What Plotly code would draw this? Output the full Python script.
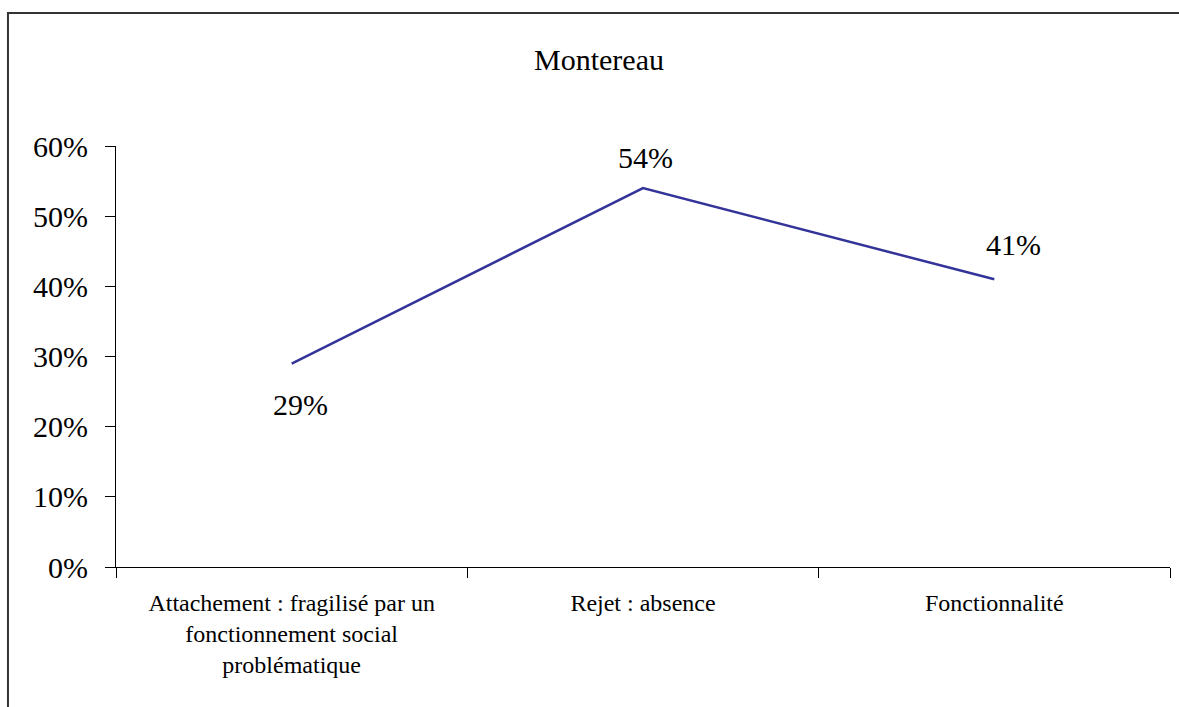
import plotly.graph_objects as go

categories = ["Attachement : fragilisé par un<br>fonctionnement social<br>problématique",
              "Rejet : absence", "Fonctionnalité"]
values = [0.29, 0.54, 0.41]
labels = ["29%", "54%", "41%"]
label_shift = [-41, 31, 35]
label_xshift = [9, 2, 19]
y_ticks = [0, 0.1, 0.2, 0.3, 0.4, 0.5, 0.6]
y_ticktext = ["0%", "10%", "20%", "30%", "40%", "50%", "60%"]

FONT = "Liberation Serif, serif"

fig = go.Figure()
fig.add_trace(go.Scatter(x=categories, y=values, mode="lines",
                         line=dict(color="#333399", width=2.5),
                         hoverinfo="skip", showlegend=False))

for c, v, t, ys, xs in zip(categories, values, labels, label_shift, label_xshift):
    fig.add_annotation(x=c, y=v, text=t, showarrow=False, yshift=ys, xshift=xs,
                       font=dict(family=FONT, size=30, color="black"))

fig.add_annotation(xref="paper", yref="paper", x=0.4583, y=1.2043, text="Montereau",
                   showarrow=False, xanchor="center", yanchor="middle",
                   font=dict(family=FONT, size=30, color="black"))

# outer chart border
fig.add_shape(type="rect", xref="paper", yref="paper",
              x0=-0.1025, x1=1.3, y0=-0.6, y1=1.3159,
              line=dict(color="#333333", width=2), layer="below")

fig.update_layout(
    width=1179, height=707,
    font=dict(family=FONT, color="black"),
    margin=dict(l=116, r=9, t=146, b=140),
    plot_bgcolor="white", paper_bgcolor="white",
    xaxis=dict(type="category", tickson="boundaries", ticks="outside", ticklen=10,
               tickcolor="black", showline=True, linecolor="black", linewidth=1,
               showgrid=False, zeroline=False, range=[-0.5, 2.5],
               ticklabelstandoff=14,
               tickfont=dict(family=FONT, size=24, color="black")),
    yaxis=dict(range=[0, 0.6], tickvals=y_ticks, ticktext=y_ticktext,
               ticks="outside", ticklen=10, tickcolor="black",
               showline=True, linecolor="black", linewidth=1,
               showgrid=False, zeroline=False, ticklabelstandoff=11,
               tickfont=dict(family=FONT, size=30, color="black")),
)

fig.write_html("out.html")
